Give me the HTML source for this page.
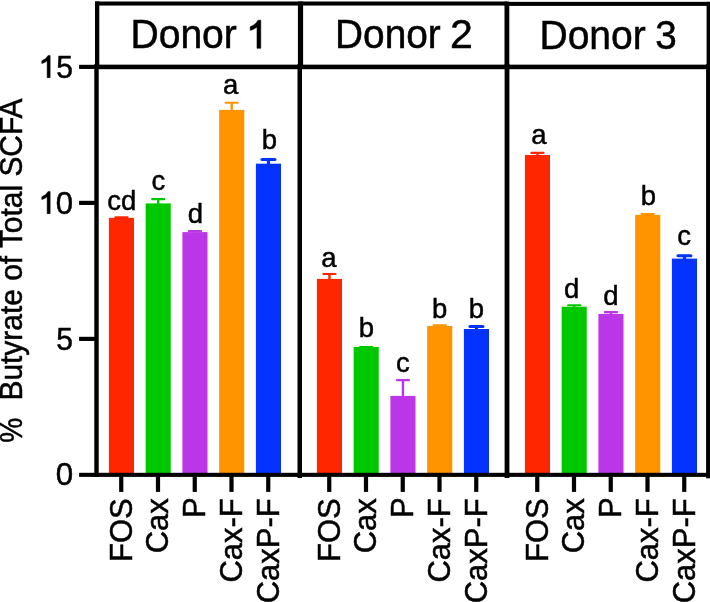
<!DOCTYPE html><html><head><meta charset="utf-8"><style>html,body{margin:0;padding:0;background:#fff;width:710px;height:602px;overflow:hidden}svg{display:block;will-change:transform}text{font-family:"Liberation Sans",sans-serif;fill:#000}</style></head><body>
<svg width="710" height="602" viewBox="0 0 710 602">
<rect x="108.9" y="217.9" width="25.1" height="256.9" fill="#FF2600"/>
<rect x="114.3" y="216.3" width="14.3" height="2.1" rx="1.05" fill="#FF2600"/>
<rect x="145.65" y="203.4" width="25.1" height="271.4" fill="#00C800"/>
<rect x="157" y="199.1" width="2.4" height="4.8" fill="#00C800"/>
<rect x="151.05" y="198.05" width="14.3" height="2.1" rx="1.05" fill="#00C800"/>
<rect x="182.4" y="232.1" width="25.1" height="242.7" fill="#BB36E6"/>
<rect x="187.8" y="230.1" width="14.3" height="2.1" rx="1.05" fill="#BB36E6"/>
<rect x="219.15" y="109.9" width="25.1" height="364.9" fill="#FF9300"/>
<rect x="230.5" y="102.75" width="2.4" height="7.65" fill="#FF9300"/>
<rect x="224.55" y="101.7" width="14.3" height="2.1" rx="1.05" fill="#FF9300"/>
<rect x="255.9" y="163.7" width="25.1" height="311.1" fill="#0433FF"/>
<rect x="266.85" y="159.5" width="3.2" height="4.7" fill="#0433FF"/>
<rect x="260.45" y="157.95" width="16.0" height="3.1" rx="1.55" fill="#0433FF"/>
<rect x="316.9" y="278.9" width="25.1" height="195.9" fill="#FF2600"/>
<rect x="328.25" y="273.95" width="2.4" height="5.45" fill="#FF2600"/>
<rect x="322.3" y="272.9" width="14.3" height="2.1" rx="1.05" fill="#FF2600"/>
<rect x="353.65" y="346.9" width="25.1" height="127.9" fill="#00C800"/>
<rect x="359.05" y="346.1" width="14.3" height="2.1" rx="1.05" fill="#00C800"/>
<rect x="390.4" y="395.9" width="25.1" height="78.9" fill="#BB36E6"/>
<rect x="401.75" y="380.1" width="2.4" height="16.3" fill="#BB36E6"/>
<rect x="395.8" y="379.05" width="14.3" height="2.1" rx="1.05" fill="#BB36E6"/>
<rect x="427.15" y="326" width="25.1" height="148.8" fill="#FF9300"/>
<rect x="432.55" y="324.3" width="14.3" height="2.1" rx="1.05" fill="#FF9300"/>
<rect x="463.9" y="329" width="25.1" height="145.8" fill="#0433FF"/>
<rect x="474.85" y="326.45" width="3.2" height="3.05" fill="#0433FF"/>
<rect x="468.45" y="324.9" width="16.0" height="3.1" rx="1.55" fill="#0433FF"/>
<rect x="524.9" y="155" width="25.1" height="319.8" fill="#FF2600"/>
<rect x="536.25" y="152.85" width="2.4" height="2.65" fill="#FF2600"/>
<rect x="530.3" y="151.8" width="14.3" height="2.1" rx="1.05" fill="#FF2600"/>
<rect x="561.65" y="306.7" width="25.1" height="168.1" fill="#00C800"/>
<rect x="573" y="305.25" width="2.4" height="1.95" fill="#00C800"/>
<rect x="567.05" y="304.2" width="14.3" height="2.1" rx="1.05" fill="#00C800"/>
<rect x="598.4" y="313.9" width="25.1" height="160.9" fill="#BB36E6"/>
<rect x="609.75" y="312.15" width="2.4" height="2.25" fill="#BB36E6"/>
<rect x="603.8" y="311.1" width="14.3" height="2.1" rx="1.05" fill="#BB36E6"/>
<rect x="635.15" y="214.9" width="25.1" height="259.9" fill="#FF9300"/>
<rect x="640.55" y="213.1" width="14.3" height="2.1" rx="1.05" fill="#FF9300"/>
<rect x="671.9" y="258.6" width="25.1" height="216.2" fill="#0433FF"/>
<rect x="682.85" y="255.8" width="3.2" height="3.3" fill="#0433FF"/>
<rect x="676.45" y="254.25" width="16.0" height="3.1" rx="1.55" fill="#0433FF"/>
<text x="121.75" y="209.65" font-size="27.5" text-anchor="middle" stroke="#000" stroke-width="0.5">cd</text>
<text x="158.25" y="190.3" font-size="27.5" text-anchor="middle" stroke="#000" stroke-width="0.5">c</text>
<text x="195.3" y="222.85" font-size="27.5" text-anchor="middle" stroke="#000" stroke-width="0.5">d</text>
<text x="230.65" y="94.1" font-size="27.5" text-anchor="middle" stroke="#000" stroke-width="0.5">a</text>
<text x="269.35" y="149.4" font-size="27.5" text-anchor="middle" stroke="#000" stroke-width="0.5">b</text>
<text x="328.8" y="266.7" font-size="27.5" text-anchor="middle" stroke="#000" stroke-width="0.5">a</text>
<text x="366.3" y="337.3" font-size="27.5" text-anchor="middle" stroke="#000" stroke-width="0.5">b</text>
<text x="402.9" y="371.7" font-size="27.5" text-anchor="middle" stroke="#000" stroke-width="0.5">c</text>
<text x="439.7" y="318" font-size="27.5" text-anchor="middle" stroke="#000" stroke-width="0.5">b</text>
<text x="476.35" y="317.6" font-size="27.5" text-anchor="middle" stroke="#000" stroke-width="0.5">b</text>
<text x="538.9" y="143.7" font-size="27.5" text-anchor="middle" stroke="#000" stroke-width="0.5">a</text>
<text x="571.7" y="298.05" font-size="27.5" text-anchor="middle" stroke="#000" stroke-width="0.5">d</text>
<text x="610.9" y="304.8" font-size="27.5" text-anchor="middle" stroke="#000" stroke-width="0.5">d</text>
<text x="648.3" y="204.9" font-size="27.5" text-anchor="middle" stroke="#000" stroke-width="0.5">b</text>
<text x="684" y="244.7" font-size="27.5" text-anchor="middle" stroke="#000" stroke-width="0.5">c</text>
<rect x="95" y="1.5" width="412" height="4.05" fill="#000"/>
<rect x="504.5" y="1.85" width="205.5" height="4.05" fill="#000"/>
<rect x="95" y="64.65" width="615" height="4.55" fill="#000"/>
<rect x="79.1" y="64.8" width="17.9" height="4.15" fill="#000"/>
<rect x="79.1" y="472.8" width="628.9" height="4.1" fill="#000"/>
<rect x="94.3" y="64" width="4.4" height="412.9" fill="#000"/>
<rect x="95" y="1.5" width="4.3" height="64.5" fill="#000"/>
<rect x="297.5" y="64" width="4.5" height="414" fill="#000"/>
<rect x="297.9" y="1.5" width="5.2" height="64.5" fill="#000"/>
<rect x="504.6" y="64" width="4.8" height="414" fill="#000"/>
<rect x="504.5" y="1.6" width="4.8" height="64.4" fill="#000"/>
<rect x="706.1" y="64" width="3.9" height="414.3" fill="#000"/>
<rect x="706.6" y="1.85" width="3.4" height="64.15" fill="#000"/>
<rect x="79.1" y="200.8" width="16.9" height="4.15" fill="#000"/>
<rect x="79.1" y="336.8" width="16.9" height="4.15" fill="#000"/>
<rect x="119.15" y="476" width="4.2" height="15.9" fill="#000"/>
<rect x="155.9" y="476" width="4.2" height="15.9" fill="#000"/>
<rect x="192.65" y="476" width="4.2" height="15.9" fill="#000"/>
<rect x="229.4" y="476" width="4.2" height="15.9" fill="#000"/>
<rect x="266.15" y="476" width="4.2" height="15.9" fill="#000"/>
<rect x="327.15" y="476" width="4.2" height="15.9" fill="#000"/>
<rect x="363.9" y="476" width="4.2" height="15.9" fill="#000"/>
<rect x="400.65" y="476" width="4.2" height="15.9" fill="#000"/>
<rect x="437.4" y="476" width="4.2" height="15.9" fill="#000"/>
<rect x="474.15" y="476" width="4.2" height="15.9" fill="#000"/>
<rect x="535.15" y="476" width="4.2" height="15.9" fill="#000"/>
<rect x="571.9" y="476" width="4.2" height="15.9" fill="#000"/>
<rect x="608.65" y="476" width="4.2" height="15.9" fill="#000"/>
<rect x="645.4" y="476" width="4.2" height="15.9" fill="#000"/>
<rect x="682.15" y="476" width="4.2" height="15.9" fill="#000"/>
<text transform="translate(130.42,48.35) scale(0.3909,0.4072)" font-size="100" stroke="#000" stroke-width="1.253">Donor</text>
<path d="M260.8 20.25L260.8 48.35L256.98 48.35L256.98 26.99C255.29 28.4 252.99 29.94 250.18 30.37L250.18 26.8C253.27 25.59 256.3 23.34 258.1 20.25Z" fill="#000" stroke="#000" stroke-width="0.5" stroke-linejoin="round"/>
<text transform="translate(335.04,48.35) scale(0.3882,0.4087)" font-size="100" stroke="#000" stroke-width="1.255">Donor</text>
<text transform="translate(450.1,48.35) scale(0.4110,0.4043)" font-size="100" stroke="#000" stroke-width="1.227">2</text>
<text transform="translate(539.43,48.65) scale(0.3905,0.4087)" font-size="100" stroke="#000" stroke-width="1.251">Donor</text>
<text transform="translate(655.2,48.54) scale(0.3872,0.4056)" font-size="100" stroke="#000" stroke-width="1.261">3</text>
<path d="M50.15 55.55L50.15 77.65L47.14 77.65L47.14 60.85C45.82 61.96 44.01 63.17 41.8 63.51L41.8 60.7C44.23 59.75 46.61 57.98 48.03 55.55Z" fill="#000" stroke="#000" stroke-width="0.5" stroke-linejoin="round"/>
<text transform="translate(56.15,77.64) scale(0.3011,0.3114)" font-size="100" stroke="#000" stroke-width="1.633">5</text>
<path d="M50.15 191.55L50.15 213.65L47.14 213.65L47.14 196.85C45.82 197.96 44.01 199.17 41.8 199.51L41.8 196.7C44.23 195.75 46.61 193.98 48.03 191.55Z" fill="#000" stroke="#000" stroke-width="0.5" stroke-linejoin="round"/>
<text transform="translate(55.8,213.63) scale(0.3116,0.3183)" font-size="100" stroke="#000" stroke-width="1.588">0</text>
<text transform="translate(56.15,349.64) scale(0.3011,0.3114)" font-size="100" stroke="#000" stroke-width="1.633">5</text>
<text transform="translate(55.8,485.33) scale(0.3137,0.3155)" font-size="100" stroke="#000" stroke-width="1.589">0</text>
<text transform="translate(22.41,400.54) rotate(-90) scale(0.2993,0.3087)" font-size="100" stroke="#000" stroke-width="1.645">Butyrate of Total SCFA</text>
<text transform="translate(22.41,442.64) rotate(-90) scale(0.2817,0.3087)" font-size="100" stroke="#000" stroke-width="1.694">%</text>
<text transform="translate(131.6,561.94) rotate(-90) scale(0.3100,0.3203)" font-size="100" stroke="#000" stroke-width="1.587">FOS</text>
<text transform="translate(168.35,553.26) rotate(-90) scale(0.3100,0.3203)" font-size="100" stroke="#000" stroke-width="1.587">Cax</text>
<text transform="translate(205.1,517.95) rotate(-90) scale(0.3100,0.3203)" font-size="100" stroke="#000" stroke-width="1.587">P</text>
<text transform="translate(241.85,582.55) rotate(-90) scale(0.3100,0.3203)" font-size="100" stroke="#000" stroke-width="1.587">Cax-F</text>
<text transform="translate(278.6,603.32) rotate(-90) scale(0.3100,0.3203)" font-size="100" stroke="#000" stroke-width="1.587">CaxP-F</text>
<text transform="translate(339.6,561.94) rotate(-90) scale(0.3100,0.3203)" font-size="100" stroke="#000" stroke-width="1.587">FOS</text>
<text transform="translate(376.35,553.26) rotate(-90) scale(0.3100,0.3203)" font-size="100" stroke="#000" stroke-width="1.587">Cax</text>
<text transform="translate(413.1,517.95) rotate(-90) scale(0.3100,0.3203)" font-size="100" stroke="#000" stroke-width="1.587">P</text>
<text transform="translate(449.85,582.55) rotate(-90) scale(0.3100,0.3203)" font-size="100" stroke="#000" stroke-width="1.587">Cax-F</text>
<text transform="translate(486.6,603.32) rotate(-90) scale(0.3100,0.3203)" font-size="100" stroke="#000" stroke-width="1.587">CaxP-F</text>
<text transform="translate(547.6,561.94) rotate(-90) scale(0.3100,0.3203)" font-size="100" stroke="#000" stroke-width="1.587">FOS</text>
<text transform="translate(584.35,553.26) rotate(-90) scale(0.3100,0.3203)" font-size="100" stroke="#000" stroke-width="1.587">Cax</text>
<text transform="translate(621.1,517.95) rotate(-90) scale(0.3100,0.3203)" font-size="100" stroke="#000" stroke-width="1.587">P</text>
<text transform="translate(657.85,582.55) rotate(-90) scale(0.3100,0.3203)" font-size="100" stroke="#000" stroke-width="1.587">Cax-F</text>
<text transform="translate(694.6,603.32) rotate(-90) scale(0.3100,0.3203)" font-size="100" stroke="#000" stroke-width="1.587">CaxP-F</text>
</svg></body></html>
